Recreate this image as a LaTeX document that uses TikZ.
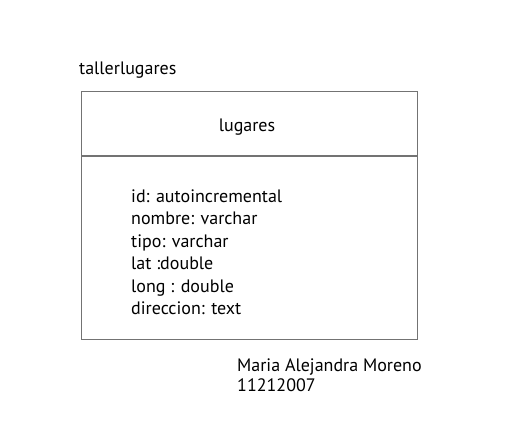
\documentclass[tikz,border=0pt]{standalone}
\usepackage{fontspec}
\setmainfont{PT Sans}
\begin{document}
\begin{tikzpicture}[x=1pt,y=-1pt,
  boxline/.style={draw=black!55,line width=1.2pt},
  txt/.style={anchor=base west,inner sep=0pt,font=\fontsize{18}{21}\selectfont},
  ctxt/.style={anchor=base,inner sep=0pt,font=\fontsize{18}{21}\selectfont}]
\useasboundingbox[fill=white] (0,0) rectangle (519,421);
\node[boxline,minimum width=336pt,minimum height=248pt,anchor=north west,inner sep=0pt] (box) at (81,91) {};
\coordinate (dl) at (81,156);
\coordinate (dr) at (417,156);
\draw[boxline] (dl) -- (dr);
\node[txt] (pkg) at (79,74) {tallerlugares};
\node[ctxt] (title) at (247,131) {lugares};
\node[txt] (a1) at (131,202) {id: autoincremental};
\node[txt] (a2) at (131,224.5) {nombre: varchar};
\node[txt] (a3) at (131,247) {tipo: varchar};
\node[txt] (a4) at (131,269.5) {lat :double};
\node[txt] (a5) at (131,292) {long : double};
\node[txt] (a6) at (131,314.5) {direccion: text};
\node[txt] (au) at (237,371) {Maria Alejandra Moreno};
\node[txt] (id) at (237,391) {11212007};
\end{tikzpicture}
\end{document}
